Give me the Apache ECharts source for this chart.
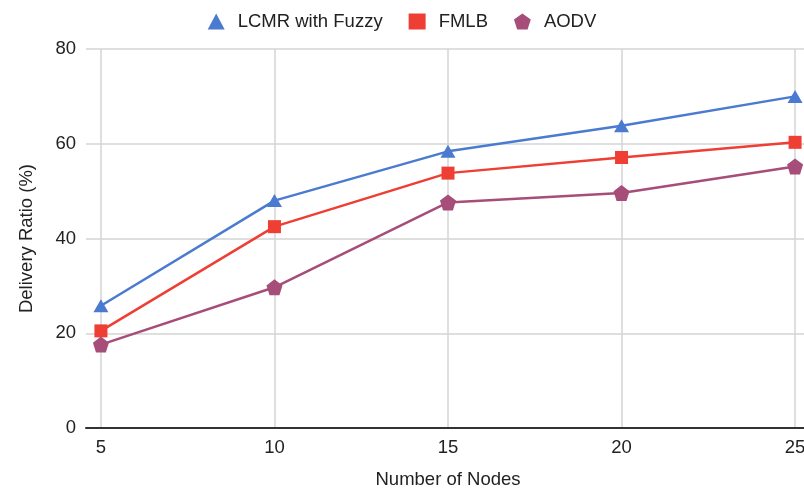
<!DOCTYPE html>
<html>
<head>
<meta charset="utf-8">
<script src="https://cdn.jsdelivr.net/npm/echarts@6/dist/echarts.min.js"></script>
<style>
  html, body { margin: 0; padding: 0; background: #fff; }
  #chart { width: 804px; height: 489px; }
</style>
</head>
<body>
<div id="chart"></div>
<script>
// number of nodes on the x axis
var nodes = [5, 10, 15, 20, 25];
// delivery ratio (%) per protocol
var lcmr = [25.8, 48.0, 58.4, 63.8, 70.0];
var fmlb = [20.5, 42.5, 53.8, 57.1, 60.3];
var aodv = [17.6, 29.7, 47.6, 49.6, 55.2];
var yTicks = [0, 20, 40, 60, 80];

var pentagon = 'path://M0,-10 L9.51,-3.09 L5.88,8.09 L-5.88,8.09 L-9.51,-3.09 Z';

function pairs(vals) {
  var out = [];
  for (var i = 0; i < nodes.length; i++) {
    out.push([nodes[i], vals[i]]);
  }
  return out;
}

var chart = echarts.init(document.getElementById('chart'));
var font = 'Liberation Sans, Arial, sans-serif';
var fs = 18.5;

var option = {
  animation: false,
  color: ['#4a7bd0', '#ef3e33', '#a64d79'],
  textStyle: { fontFamily: font },
  legend: {
    top: 7,
    left: 'center',
    itemGap: 26,
    itemWidth: 17,
    itemHeight: 16,
    textStyle: { fontSize: fs, color: '#222', fontFamily: font, padding: [0, 0, 0, 8] },
    data: [
      { name: 'LCMR with Fuzzy', icon: 'triangle' },
      { name: 'FMLB', icon: 'rect' },
      { name: 'AODV', icon: pentagon }
    ]
  },
  grid: {
    left: 86,
    top: 49,
    width: 724,
    height: 379,
    outerBoundsMode: 'none'
  },
  xAxis: {
    type: 'value',
    min: 4.57,
    max: 25.43,
    splitNumber: 5,
    name: 'Number of Nodes',
    nameLocation: 'middle',
    nameGap: 42,
    nameTextStyle: { fontSize: fs, color: '#222', fontFamily: font },
    axisLine: { show: true, lineStyle: { color: '#333', width: 2 } },
    axisTick: { show: false },
    axisLabel: {
      showMinLabel: false,
      showMaxLabel: false,
      margin: 10,
      fontSize: fs,
      color: '#222',
      fontFamily: font
    },
    splitLine: {
      show: true,
      showMinLine: false,
      showMaxLine: false,
      lineStyle: { color: '#d4d4d4', width: 1.5 }
    }
  },
  yAxis: {
    type: 'value',
    min: yTicks[0],
    max: yTicks[yTicks.length - 1],
    interval: 20,
    name: 'Delivery Ratio (%)',
    nameLocation: 'middle',
    nameGap: 50,
    nameTextStyle: { fontSize: fs, color: '#222', fontFamily: font },
    axisLine: { show: false },
    axisTick: { show: false },
    axisLabel: { margin: 10, fontSize: fs, color: '#222', fontFamily: font },
    splitLine: { lineStyle: { color: '#d4d4d4', width: 1.5 } }
  },
  series: [
    {
      name: 'LCMR with Fuzzy',
      type: 'line',
      symbol: 'triangle',
      symbolSize: [15, 13],
      lineStyle: { width: 2.5 },
      data: pairs(lcmr)
    },
    {
      name: 'FMLB',
      type: 'line',
      symbol: 'rect',
      symbolSize: 13,
      lineStyle: { width: 2.5 },
      data: pairs(fmlb)
    },
    {
      name: 'AODV',
      type: 'line',
      symbol: pentagon,
      symbolSize: 16,
      lineStyle: { width: 2.5 },
      data: pairs(aodv)
    }
  ]
};
chart.setOption(option);
</script>
</body>
</html>
